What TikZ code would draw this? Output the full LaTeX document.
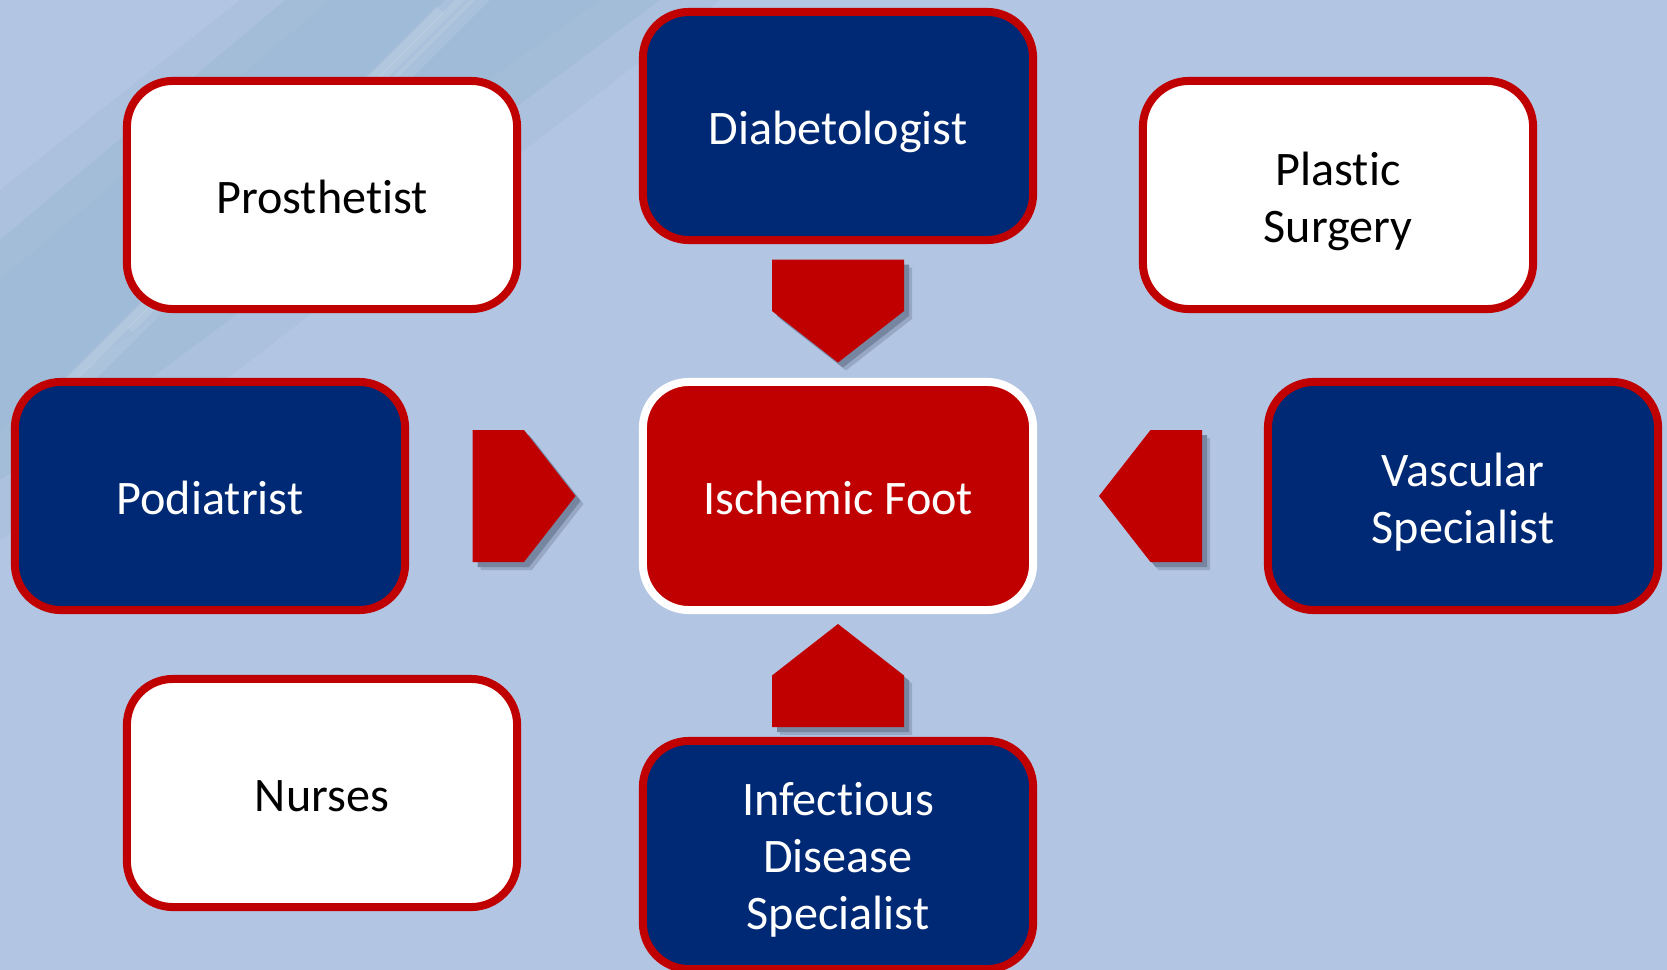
\documentclass[tikz,border=0pt]{standalone}
\usepackage{fontspec}
\setmainfont{Carlito}[Ligatures={NoCommon}]
\usetikzlibrary{calc}

\definecolor{bgblue}{RGB}{178,197,227}
\definecolor{streak}{RGB}{157,186,213}
\definecolor{navy}{RGB}{0,41,117}
\definecolor{boxred}{RGB}{192,0,0}
\definecolor{shadowgray}{RGB}{118,134,160}

\begin{document}
\begin{tikzpicture}[x=0.01cm, y=-0.01cm]
            \tikzset{
                member/.style={rounded corners=0.46cm, line width=0.08cm,
                    draw=boxred, minimum width=3.90cm, minimum height=2.28cm,
                    inner sep=0pt, align=center,
                    font=\fontsize{13.7}{16.2}\selectfont,
                    text height=13.4pt, text depth=3pt},
                stack/.style={text height=#1},
                lead/.style={member, fill=navy, text=white},
                aide/.style={member, fill=white, text=black},
                focus/.style={member, fill=boxred, draw=white, text=white},
                pics/homeplate/.style={code={
                    \fill[#1] (-51.5,-66) -- (0,-66) -- (51.5,0)
                        -- (0,66) -- (-51.5,66) -- cycle;
                }}
            }

            % background with streaks
            \useasboundingbox (0,0) rectangle (1667,970);
            \fill[bgblue] (0,0) rectangle (1667,970);
            \fill[streak, opacity=0.3] (0,190) -- (240,0) -- (720,0) -- (160,430) -- (0,540) -- cycle;
            \fill[streak, opacity=0.5] (0,240) -- (285,0) -- (660,0) -- (135,390) -- (0,480) -- cycle;
            \fill[streak, opacity=0.4] (0,280) -- (330,0) -- (600,0) -- (110,350) -- (0,430) -- cycle;
            \foreach \a/\b/\w in {20/430/3, 70/390/6, 130/330/2, 180/300/4} {
                \draw[white, opacity=0.1, line width=\w] (\a,\b) -- ($(\a,\b)+(420,-420)$);
            }

            % team members
            \node[lead] (diab) at (838,126) {Diabetologist};
            \node[aide] (prosth) at (322,195) {Prosthetist};
            \node[aide, stack=30pt] (plastic) at (1338,195) {Plastic\\Surgery};
            \node[lead] (podi) at (210,496) {Podiatrist};
            \node[focus] (isch) at (838,496) {Ischemic Foot};
            \node[lead, stack=30pt] (vasc) at (1463,496) {Vascular\\Specialist};
            \node[aide] (nurses) at (322,793) {Nurses};
            \node[lead, stack=45.2pt] (infect) at (838,855) {Infectious\\Disease\\Specialist};

            % block arrows towards the centre
            \foreach \from/\ang in {podi/0, diab/-90, infect/90, vasc/180} {
                \pic[rotate=\ang, opacity=0.45] at ($(\from)!0.5!(isch)+(8,8)$) {homeplate=shadowgray};
                \pic[rotate=\ang] at ($(\from)!0.5!(isch)+(5,5)$) {homeplate=shadowgray};
                \pic[rotate=\ang] at ($(\from)!0.5!(isch)$) {homeplate=boxred};
            }
\end{tikzpicture}
\end{document}
